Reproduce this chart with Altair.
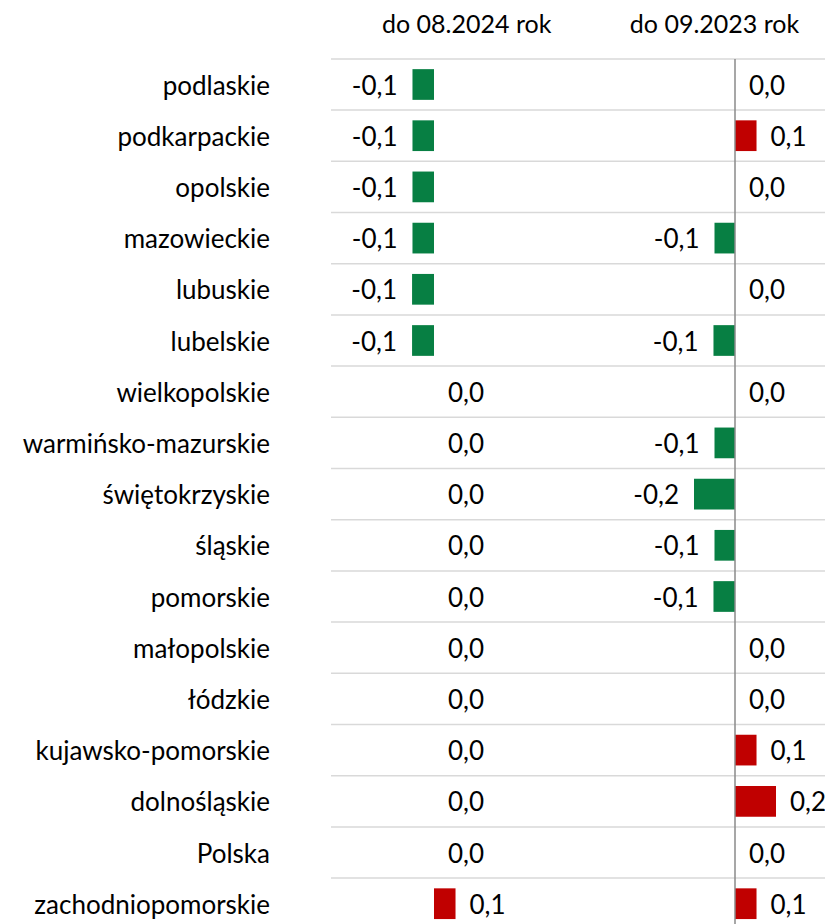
import altair as alt
import pandas as pd

# ---- data ----
regions = ["podlaskie", "podkarpackie", "opolskie", "mazowieckie", "lubuskie",
           "lubelskie", "wielkopolskie", "warmińsko-mazurskie", "świętokrzyskie",
           "śląskie", "pomorskie", "małopolskie", "łódzkie", "kujawsko-pomorskie",
           "dolnośląskie", "Polska", "zachodniopomorskie"]
change_to_2024_08 = [-0.105, -0.105, -0.105, -0.105, -0.107, -0.107, 0.0, 0.0, 0.0,
                     0.0, 0.0, 0.0, 0.0, 0.0, 0.0, 0.0, 0.105]
change_to_2023_09 = [0.0, 0.105, 0.0, -0.10, 0.0, -0.105, 0.0, -0.10, -0.20,
                     -0.10, -0.105, 0.0, 0.0, 0.105, 0.20, 0.0, 0.105]
headers = ["do 08.2024 rok", "do 09.2023 rok"]

# ---- layout constants ----
W, H = 817, 916
PX_PER_UNIT = 205.0
ZERO_LEFT = 426.0      # px of left panel zero
ZERO_RIGHT = 727.0     # px of right panel zero
ROW0 = 76.5            # px of first row centre
STEP = 51.2            # px per row
offset_right = (ZERO_RIGHT - ZERO_LEFT) / PX_PER_UNIT
x_dom = [-ZERO_LEFT / PX_PER_UNIT, (W - ZERO_LEFT) / PX_PER_UNIT]
y_dom = [-ROW0 / STEP, (H - ROW0) / STEP]

FONT = "Lato"
FS = 26
DY = 10
GREEN = "#077F43"
RED = "#C00000"

rows = []
for i, r in enumerate(regions):
    for panel, vals, off in ((0, change_to_2024_08, 0.0), (1, change_to_2023_09, offset_right)):
        v = vals[i]
        rows.append({
            "region": r, "row": i, "panel": panel, "value": v, "base": off,
            "pos": v + off, "y0": i - 0.3, "y1": i + 0.3,
            "label": f"{v:.1f}".replace(".", ","),
        })
df = pd.DataFrame(rows)
cats = pd.DataFrame({"region": regions, "row": list(range(len(regions)))})
grid = pd.DataFrame({"b": [i + 0.5 for i in range(-1, len(regions) - 1)]})
zero = pd.DataFrame({"x": [offset_right], "y0": [-0.5], "y1": [y_dom[1]]})

xs = alt.Scale(domain=x_dom, nice=False, zero=False)
ys = alt.Scale(domain=y_dom, nice=False, zero=False, reverse=True)

gridlines = alt.Chart(grid).mark_rule(color="#d9d9d9", strokeWidth=1.5).encode(
    y=alt.Y("b:Q", scale=ys, axis=None),
    x=alt.value(323), x2=alt.value(W),
)

bars = alt.Chart(df).mark_bar().encode(
    x=alt.X("pos:Q", scale=xs, axis=None),
    x2="base:Q",
    y=alt.Y("y0:Q", scale=ys, axis=None),
    y2="y1:Q",
    color=alt.condition(alt.datum.value < 0, alt.value(GREEN), alt.value(RED)),
)

zero_line = alt.Chart(zero).mark_rule(color="#8a8a8a", strokeWidth=1.5).encode(
    x=alt.X("x:Q", scale=xs, axis=None),
    y=alt.Y("y0:Q", scale=ys, axis=None),
    y2="y1:Q",
)

neg_labels = alt.Chart(df).transform_filter(alt.datum.value < 0).mark_text(
    align="right", baseline="alphabetic", dx=-15, dy=DY, font=FONT, fontSize=FS,
    color="#000000"
).encode(
    x=alt.X("pos:Q", scale=xs, axis=None),
    y=alt.Y("row:Q", scale=ys, axis=None),
    text="label:N",
)

pos_labels = alt.Chart(df).transform_filter(alt.datum.value >= 0).mark_text(
    align="left", baseline="alphabetic", dx=14, dy=DY, font=FONT, fontSize=FS,
    color="#000000"
).encode(
    x=alt.X("pos:Q", scale=xs, axis=None),
    y=alt.Y("row:Q", scale=ys, axis=None),
    text="label:N",
)

cat_labels = alt.Chart(cats).mark_text(
    align="right", baseline="alphabetic", dy=DY, font=FONT, fontSize=FS, color="#000000"
).encode(
    x=alt.value(262),
    y=alt.Y("row:Q", scale=ys, axis=None),
    text="region:N",
)

hdr_df = pd.DataFrame({"header": headers})
hdr_left = alt.Chart(hdr_df).transform_filter(alt.datum.header == headers[0]).mark_text(
    align="center", baseline="alphabetic", font=FONT, fontSize=25, color="#000000"
).encode(x=alt.value(458.7), y=alt.value(24.5), text="header:N")
hdr_right = alt.Chart(hdr_df).transform_filter(alt.datum.header == headers[1]).mark_text(
    align="center", baseline="alphabetic", font=FONT, fontSize=25, color="#000000"
).encode(x=alt.value(706.5), y=alt.value(24.5), text="header:N")

chart = alt.layer(
    gridlines, bars, zero_line, neg_labels, pos_labels, cat_labels, hdr_left, hdr_right
).properties(
    width=W, height=H,
    autosize=alt.AutoSizeParams(type="none"),
    padding=0,
).configure_view(stroke=None)

chart.save("out.html", embed_options={"renderer": "svg", "actions": False})
